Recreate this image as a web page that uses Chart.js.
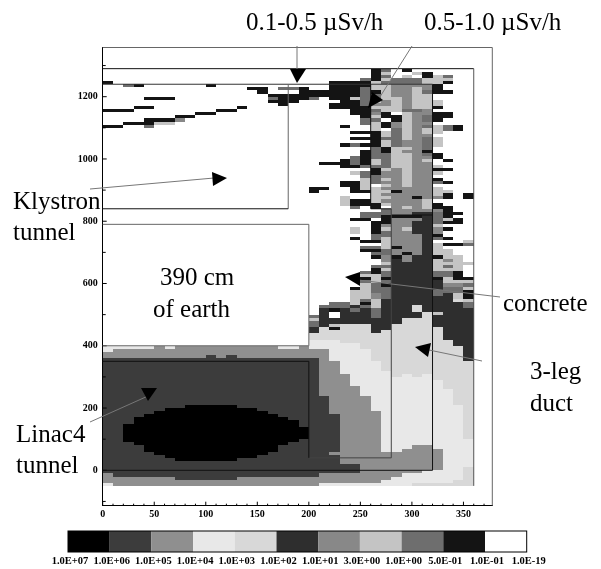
<!DOCTYPE html>
<html>
<head>
<meta charset="UTF-8" />
<title>Dose map</title>
<script src="https://cdn.jsdelivr.net/npm/chart.js"></script>
<style>
  body { margin: 0; background: #fff; }
  #wrap { width: 601px; height: 569px; }
</style>
</head>
<body>
<div id="wrap"><canvas id="map" width="601" height="569"></canvas></div>
<script>
  // one char per 10 cm cell, x = 0..350. '.' is white, digits index levelColors
  // rows start at y = 1280 and go down in steps of 10
  const upperRows = [
    "................. ......... 98.9.. ....",
    "................. ......... 97..79 ....",
    "................. ......... 98.7.9 78..",
    "................. ........8 978887 77..",
    "9................ .....9999 788887 79..",
    "..89......9...... .....9999 776666 9...",
    "..............99. 889..9998 776676 9...",
    "...............9. ..9999998 976678 99..",
    "................9 999999998 876677 ....",
    "....999.........8 9998.9978 877677 ....",
    "................9 99....998 767677 7...",
    "................. 9....9998 667677 7...",
    "...99........9... .....9999 777677 9...",
    "999........99.... .......99 877886 ....",
    ".........99...... .......99 69.766 99..",
    ".......99........ ........9 799768 99..",
    "....9996......... ........8 8.9768 9...",
    "..99977.......... ........8 796766 ....",
    "99..8............ ......9.. 796768 789.",
    "................. ......... 7.8767 789.",
    "................. .......99 978767 7...",
    "................. ......... 978766 ....",
    "................. .......99 988768 7...",
    "................. ......... 978668 7...",
    "................. ......989 978668 7...",
    "................. ......... 897768 ....",
    "................. ........9 897669 ....",
    "................. ........9 887768 9...",
    "................. .......89 887766 9...",
    "................. ......989 787767 .9..",
    "................. ....99989 787766 ....",
    "................. ......998 887766 7...",
    "................. ......... 976766 99..",
    "................. .......78 966766 7...",
    "................. ........8 866766 ....",
    "................. ........7 876766 9...",
    "................. ......997 866766 89..",
    "................. ......997 .76766 ....",
    "................. ...99..97 766666 7...",
    "................. ...9...99 779666 77..",
    "................. ......... 766666 79.9",
    "................. ......7.. 776696 69.9",
    "................. ......799 766667 ....",
    "................. ......799 976667 9...",
    "................. .......8. 9.6767 99..",
    "................. ......... .86666 69..",
    "................. ........8 886655 899.",
    "................. ........8 899995 89..",
    "................. .......99 .96665 879.",
    "................. ......... 996655 899.",
    "................. ......... 966655 7...",
    "................. .......7. 976755 69..",
    "................. .......7. 986655 6...",
    "................. ......... 886665 9...",
    "................. .......9. 876665 89..",
    "................. ........9 976665 ...7",
    "................. ......... .76665 7998",
    "................. ........8 879665 7...",
    "................. ........9 986665 77..",
    "................. ......... 886965 77..",
    "................. ......... 969655 977.",
    "................. ......... .65655 767.",
    "................. ......... .75555 7777",
    "................. ......... 885555 787.",
    "................. ......... 975555 777.",
    "................. ........8 985555 889.",
    "................. ........7 785555 889.",
    "................. ........9 795555 9799",
    "................. ........8 785555 5777",
    "................. ........7 895555 5668",
    "................. .......97 885555 5887",
    "................. .......77 885555 8889",
    "................. .......77 685555 8579",
    "................. .......77 685555 5579",
    "................. .......78 755555 5547",
    "................. .....8879 755555 5558",
    "................. ....88858 755545 5558",
    "................. ....59585 855545 5555",
    "................. ....5.555 855554 7555",
    "................. ...85.555 855554 5555",
    "................. ...755555 555444 5555",
    "................. ...855555 555444 5555",
    "................. ...857444 554444 5555",
    "................. ...549444 554444 4555",
    "................. ...544444 544444 4555"
  ];

  // below row 84 the field is smooth, so per column: level-lastRow
  const lowerColumns = [
    ".-88 3-90 2-92 1-129 2-132 3-133",
    ".-88 3-89 2-92 1-130 2-133",
    ".-88 3-89 2-92 1-113 0-119 1-130 2-133",
    ".-88 3-89 2-92 1-111 0-120 1-130 2-133",
    ".-88 3-89 2-92 1-110 0-122 1-130 2-133",
    ".-88 2-92 1-109 0-123 1-130 2-133",
    ".-88 3-89 2-92 1-108 0-124 1-130 2-133",
    ".-88 2-92 1-108 0-125 1-131 2-133",
    ".-88 2-92 1-107 0-125 1-131 2-133",
    ".-88 2-92 1-107 0-125 1-131 2-133",
    ".-88 2-91 1-107 0-125 1-131 2-133",
    ".-88 2-92 1-107 0-125 1-131 2-133",
    ".-88 2-91 1-107 0-125 1-131 2-133",
    ".-88 2-92 1-108 0-124 1-130 2-133",
    ".-88 2-92 1-108 0-124 1-130 2-133",
    ".-88 2-92 1-109 0-123 1-130 2-133",
    ".-88 2-92 1-110 0-122 1-130 2-133",
    ".-88 3-89 2-92 1-111 0-120 1-130 2-133",
    ".-88 3-89 2-92 1-112 0-119 1-130 2-133",
    ".-88 2-92 1-114 0-118 1-130 2-133",
    "4-86 3-89 2-92 1-130 2-133",
    "4-86 3-89 2-104 1-129 2-132 3-133",
    "4-86 3-93 2-110 1-122 2-123 1-129 2-132 3-133",
    "4-87 3-97 2-126 1-129 2-132 3-133",
    "4-87 3-101 2-126 1-129 2-132 3-133",
    "4-89 3-104 2-132 3-133",
    "4-93 3-109 2-132 3-133",
    "4-96 3-122 2-131 3-133",
    "4-98 3-122 2-130 3-133",
    "4-97 3-121 2-129 3-133",
    "4-98 3-120 2-129 3-132 4-133",
    "4-97 3-120 2-128 3-132 4-133",
    "4-99 3-121 2-128 3-132 4-133",
    "5-86 4-102 3-132 4-133",
    "5-88 4-107 3-131 4-133",
    "5-93 4-118 3-127 4-133"
  ];

  const levelColors = ["#000000", "#3c3c3c", "#8f8f8f", "#e8e8e8", "#d8d8d8", "#2e2e2e",
                       "#888888", "#c4c4c4", "#6e6e6e", "#141414", "#ffffff"];
  const levelLabels = ["1.0E+07", "1.0E+06", "1.0E+05", "1.0E+04", "1.0E+03", "1.0E+02",
                       "1.0E+01", "3.0E+00", "1.0E+00", "5.0E-01", "1.0E-01", "1.0E-19"];
  const xTicks = [0, 10, 20, 30, 40, 50, 60, 70, 80, 90, 100, 110, 120, 130, 140, 150, 160, 170, 180,
                  190, 200, 210, 220, 230, 240, 250, 260, 270, 280, 290, 300, 310, 320, 330, 340, 350, 360, 370];
  const yTicks = [-100, 0, 100, 200, 300, 400, 500, 600, 700, 800, 900, 1000, 1100, 1200, 1300];

  // structure outlines, in cm
  const structures = [
    { color: "#111", pts: [[0, 1290], [360, 1290]] },
    { color: "#555", pts: [[360, 1290], [360, -50]] },
    { color: "#333", pts: [[0, 1240], [320, 1240]] },
    { color: "#111", pts: [[320, 1240], [320, 0], [0, 0]] },
    { color: "#666", pts: [[180, 1240], [180, 840]] },
    { color: "#111", pts: [[0, 840], [180, 840]] },
    { color: "#666", pts: [[0, 790], [200, 790], [200, 400], [0, 400]] },
    { color: "#111", pts: [[260, 1240], [260, 840], [280, 840]] },
    { color: "#111", pts: [[280, 820], [320, 820]] },
    { color: "#444", pts: [[280, 840], [280, 40], [200, 40]] },
    { color: "#111", pts: [[200, 40], [200, 350], [0, 350]] }
  ];

  // leader lines and arrow heads, in page pixels
  const arrows = [
    { line: [297, 46, 297, 70], head: [[290, 69], [306, 69], [297, 83]] },
    { line: [378, 100, 412, 46], head: [[368, 108], [372, 92], [383, 100]] },
    { line: [90, 189, 214, 178], head: [[212, 172], [227, 178], [213, 186]] },
    { line: [358, 280, 500, 297], head: [[345, 277], [360, 272], [360, 286]] },
    { line: [429, 350, 482, 361], head: [[415, 347], [431, 343], [428, 357]] },
    { line: [148, 396, 90, 422], head: [[141, 388], [157, 388], [148, 401]] }
  ];

  const notes = [
    ["0.1-0.5 \u00b5Sv/h", 246, 30], ["0.5-1.0 \u00b5Sv/h", 424, 30],
    ["Klystron", 13, 209], ["tunnel", 13, 240],
    ["390 cm", 160, 285], ["of earth", 153, 317],
    ["concrete", 503, 311], ["3-leg", 530, 379], ["duct", 530, 411],
    ["Linac4", 16, 442], ["tunnel", 16, 473]
  ];

  const levelAt = (row, col) => {
    if (row < upperRows.length) return upperRows[row].replace(/ /g, "").charAt(col);
    for (const run of lowerColumns[col].split(" ")) {
      const [lev, last] = run.split("-");
      if (row <= +last) return lev;
    }
    return ".";
  };

  const datasets = levelColors.slice(0, 10).map((color, i) => ({ label: levelLabels[i], backgroundColor: color, data: [], pointRadius: 0, showLine: false }));
  for (let row = 0; row < 134; row++) {
    for (let col = 0; col < 36; col++) {
      const lev = levelAt(row, col);
      if (lev !== "." && lev !== "") datasets[+lev].data.push({ x: col * 10, y: 1280 - row * 10 });
    }
  }

  const doseMap = {
    id: "doseMap",
    beforeDatasetsDraw(chart) {
      const { ctx, scales: { x, y } } = chart;
      ctx.save();
      chart.data.datasets.forEach(ds => {
        ctx.fillStyle = ds.backgroundColor;
        ds.data.forEach(p => {
          const l = Math.round(x.getPixelForValue(p.x)), r = Math.round(x.getPixelForValue(p.x + 10));
          const t = Math.round(y.getPixelForValue(p.y + 10)), b = Math.round(y.getPixelForValue(p.y));
          ctx.fillRect(l, t, r - l, b - t);
        });
      });
      ctx.restore();
    },
    afterDatasetsDraw(chart) {
      const { ctx, chartArea: a, scales: { x, y } } = chart;
      ctx.save();
      ctx.lineWidth = 1;

      // frame top and right
      ctx.strokeStyle = "#666";
      ctx.beginPath();
      ctx.moveTo(a.left, a.top); ctx.lineTo(a.right, a.top); ctx.lineTo(a.right, a.bottom);
      ctx.stroke();

      // inward ticks
      ctx.strokeStyle = "#000";
      ctx.beginPath();
      xTicks.forEach(v => {
        const px = x.getPixelForValue(v);
        ctx.moveTo(px, a.bottom); ctx.lineTo(px, a.bottom - (v % 50 === 0 ? 4 : 2));
      });
      yTicks.forEach(v => {
        const py = y.getPixelForValue(v);
        ctx.moveTo(a.left, py); ctx.lineTo(a.left + (v % 200 === 0 ? 4 : 3), py);
      });
      ctx.stroke();

      structures.forEach(s => {
        ctx.strokeStyle = s.color;
        ctx.beginPath();
        s.pts.forEach((p, i) => {
          const px = x.getPixelForValue(p[0]), py = y.getPixelForValue(p[1]);
          if (i) ctx.lineTo(px, py); else ctx.moveTo(px, py);
        });
        ctx.stroke();
      });

      arrows.forEach(ar => {
        ctx.strokeStyle = "#777";
        ctx.beginPath();
        ctx.moveTo(ar.line[0], ar.line[1]); ctx.lineTo(ar.line[2], ar.line[3]);
        ctx.stroke();
        ctx.fillStyle = "#000";
        ctx.beginPath();
        ar.head.forEach((p, i) => i ? ctx.lineTo(p[0], p[1]) : ctx.moveTo(p[0], p[1]));
        ctx.closePath();
        ctx.fill();
      });

      ctx.fillStyle = "#000";
      ctx.font = "25px 'Liberation Serif'";
      ctx.textAlign = "left";
      ctx.textBaseline = "alphabetic";
      notes.forEach(n => ctx.fillText(n[0], n[1], n[2]));

      // colour key
      const keyLeft = 68, keyW = 41.7, keyTop = 531, keyH = 21;
      levelColors.forEach((c, i) => {
        ctx.fillStyle = c;
        ctx.fillRect(keyLeft + i * keyW, keyTop, keyW, keyH);
      });
      ctx.strokeStyle = "#000";
      ctx.strokeRect(keyLeft, keyTop, keyW * 11, keyH);
      ctx.fillStyle = "#000";
      ctx.font = "bold 10.5px 'Liberation Serif'";
      ctx.textAlign = "center";
      levelLabels.forEach((t, i) => ctx.fillText(t, keyLeft + 2 + i * keyW, 564));
      ctx.restore();
    }
  };

  new Chart(document.getElementById("map"), {
    type: "scatter",
    data: { datasets },
    plugins: [doseMap],
    options: {
      responsive: false,
      animation: false,
      events: [],
      layout: { padding: { left: 0, top: 47.5, right: 108.7, bottom: 0 } },
      plugins: { legend: { display: false }, tooltip: { enabled: false } },
      scales: {
        x: {
          type: "linear", min: 0, max: 378,
          afterFit: s => { s.height = 63.3; },
          afterBuildTicks: s => { s.ticks = xTicks.map(value => ({ value })); },
          grid: { display: false, drawTicks: false },
          border: { color: "#000" },
          ticks: {
            autoSkip: false, maxRotation: 0, padding: 3, color: "#000",
            font: { family: "'Liberation Serif'", size: 10, weight: "bold" },
            callback: v => (v % 50 === 0 && v < 360 ? String(v) : "")
          }
        },
        y: {
          type: "linear", min: -113.7, max: 1358,
          afterFit: s => { s.width = 102.7; },
          afterBuildTicks: s => { s.ticks = yTicks.map(value => ({ value })); },
          grid: { display: false, drawTicks: false },
          border: { color: "#000" },
          ticks: {
            autoSkip: false, padding: 5, color: "#000",
            font: { family: "'Liberation Serif'", size: 10, weight: "bold" },
            callback: v => (v % 200 === 0 ? String(v) : "")
          }
        }
      }
    }
  });
</script>
</body>
</html>
